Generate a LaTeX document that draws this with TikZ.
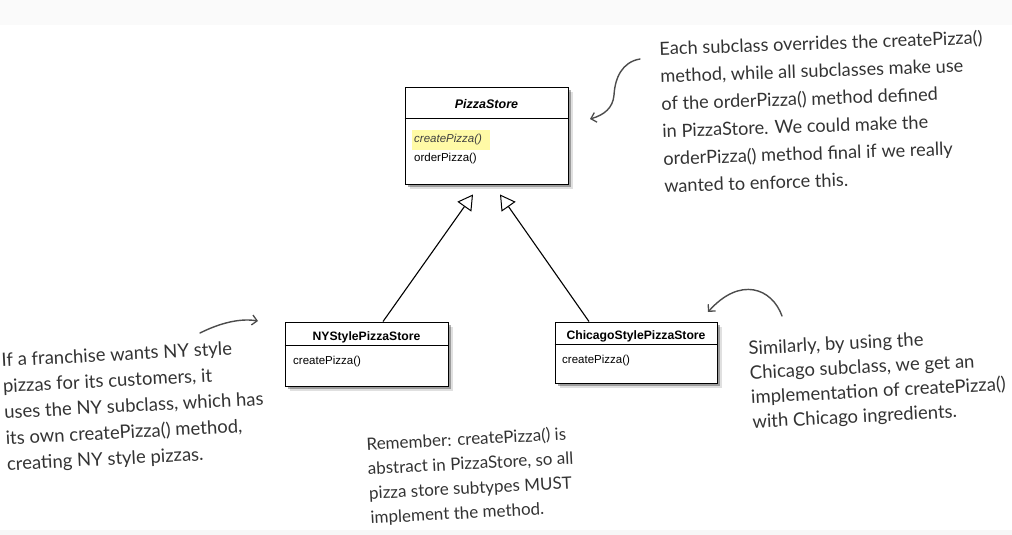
\documentclass[tikz,border=0pt]{standalone}
\usepackage{fontspec}
\setmainfont{Liberation Sans}
\newfontfamily\handfont{Lato}
\usetikzlibrary{arrows.meta,shadows,calc}
\begin{document}
\begin{tikzpicture}[x=1pt,y=-1pt,
  umlbox/.style={draw=black, line width=0.9pt, fill=white, rectangle, inner sep=0pt,
    drop shadow={shadow xshift=4.5pt,shadow yshift=-4.5pt,fill=black,opacity=0.12},
    drop shadow={shadow xshift=2.5pt,shadow yshift=-2.5pt,fill=black,opacity=0.3}},
  divider/.style={draw=black, line width=0.7pt},
  umltitle/.style={font=\bfseries\fontsize{12.2}{14}\selectfont, inner sep=0pt},
  umlop/.style={font=\fontsize{11.5}{13}\selectfont, inner sep=0pt, anchor=west},
  gen/.style={draw=black, line width=1.1pt, -{Triangle[open,length=15pt,width=17pt,line width=1pt]}},
  note/.style={align=left, inner sep=0pt, text=black!80, anchor=north west},
  hand/.style={draw=black!70, line width=1.4pt, line cap=round, -{Straight Barb[length=5pt,width=10pt,line width=1.3pt]}}
]
\useasboundingbox (0,0) rectangle (1012,535);
\fill[black!2] (0,0) rectangle (1012,25);
\fill[black!3] (0,530) rectangle (1012,535);

% PizzaStore
\node[umlbox, minimum width=163pt, minimum height=97pt] (ps) at (486.5,135.5) {};
\draw[divider] ($(ps.north west)+(0,32)$) -- ($(ps.north east)+(0,32)$);
\node[umltitle, font=\bfseries\itshape\fontsize{12.5}{14}\selectfont] (pst) at (486.5,104) {PizzaStore};
\node[fill=yellow!35, minimum width=78pt, minimum height=20pt, inner sep=0pt] (hl) at (451,140) {};
\node[umlop, font=\itshape\fontsize{11.5}{13}\selectfont, text=black!75] (psop1) at (414,140) {createPizza()};
\node[umlop] (psop2) at (414,159) {orderPizza()};

% NYStylePizzaStore
\node[umlbox, minimum width=163pt, minimum height=64pt] (ny) at (366.5,354) {};
\draw[divider] ($(ny.north west)+(0,24)$) -- ($(ny.north east)+(0,24)$);
\node[umltitle] (nyt) at (366.5,337) {NYStylePizzaStore};
\node[umlop] (nyop) at (293,362) {createPizza()};

% ChicagoStylePizzaStore
\node[umlbox, minimum width=162pt, minimum height=61pt] (ch) at (636,352.5) {};
\draw[divider] ($(ch.north west)+(0,23)$) -- ($(ch.north east)+(0,23)$);
\node[umltitle] (cht) at (636,336) {ChicagoStylePizzaStore};
\node[umlop] (chop) at (562,361) {createPizza()};

% generalization arrows
\coordinate (psL) at ($(ps.south)+(-13.5,10)$);
\coordinate (psR) at ($(ps.south)+(13.5,10)$);
\coordinate (nyTop) at ($(ny.north)+(16.5,0)$);
\coordinate (chTop) at ($(ch.north)+(-47,0)$);
\draw[gen] (nyTop) -- (psL);
\draw[gen] (chTop) -- (psR);

% notes
\node[note, rotate=2, font=\handfont\fontsize{18.2}{27.5}\selectfont] (n1) at (659,41) {Each subclass overrides the createPizza()\\method, while all subclasses make use\\of the orderPizza() method defined\\in PizzaStore. We could make the\\orderPizza() method final if we really\\wanted to enforce this.};
\node[note, rotate=3, font=\handfont\fontsize{18.5}{26}\selectfont] (n2) at (1,353) {If a franchise wants NY style\\pizzas for its customers, it\\uses the NY subclass, which has\\its own createPizza() method,\\creating NY style pizzas.};
\node[note, rotate=3, font=\handfont\fontsize{18.5}{24.5}\selectfont] (n3) at (748,341) {Similarly, by using the\\Chicago subclass, we get an\\implementation of createPizza()\\with Chicago ingredients.};
\node[note, rotate=3, font=\handfont\fontsize{17}{24.5}\selectfont] (n4) at (366,437) {Remember: createPizza() is\\abstract in PizzaStore, so all\\pizza store subtypes MUST\\implement the method.};

% hand-drawn arrows
\coordinate (a1s) at (640,59);
\coordinate (a1e) at (590,119);
\draw[hand] (a1s) .. controls (622,62) and (615,78) .. (614,95) .. controls (613,108) and (604,115) .. (a1e);
\coordinate (a2s) at (200,333);
\coordinate (a2e) at (258,321);
\draw[hand] (a2s) .. controls (220,323) and (240,318) .. (a2e);
\coordinate (a3s) at (782,316);
\coordinate (a3e) at (708,312);
\draw[hand] (a3s) .. controls (772,288) and (740,276) .. (a3e);
\end{tikzpicture}
\end{document}
